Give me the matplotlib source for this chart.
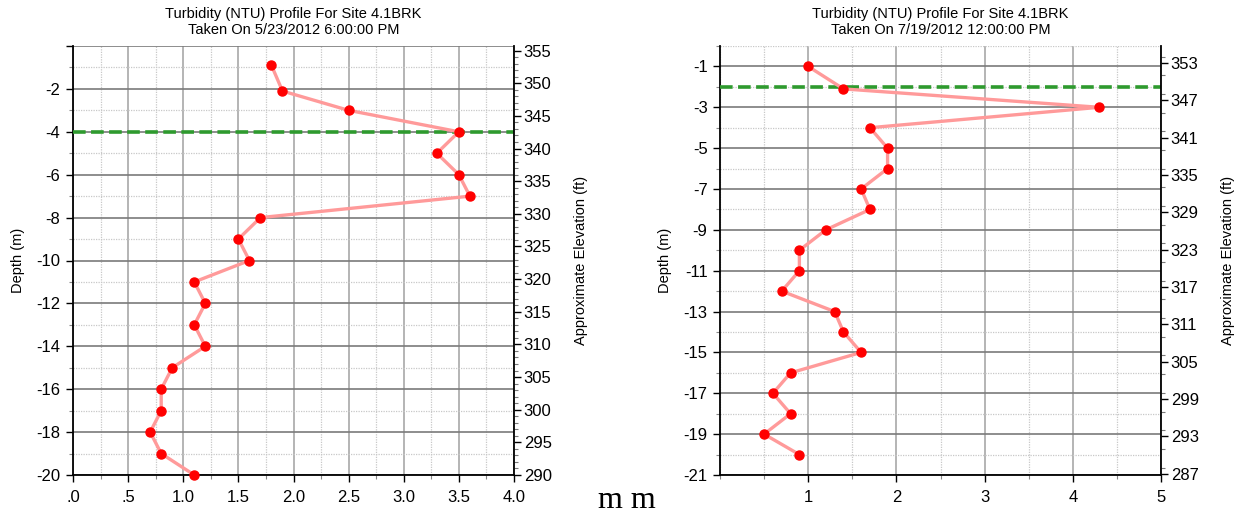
import numpy as np
import matplotlib
matplotlib.use('Agg')
import matplotlib.pyplot as plt
from matplotlib.ticker import MultipleLocator, FixedLocator

plt.rcParams['font.family'] = ['Liberation Sans', 'DejaVu Sans']

M_TO_FT = 3.28084

# profile 1: 5/23/2012
depth1 = [-0.9, -2.1, -3, -4, -5, -6, -7, -8, -9, -10, -11, -12, -13, -14, -15, -16, -17, -18, -19, -20]
turb1 = [1.8, 1.9, 2.5, 3.5, 3.3, 3.5, 3.6, 1.7, 1.5, 1.6, 1.1, 1.2, 1.1, 1.2, 0.9, 0.8, 0.8, 0.7, 0.8, 1.1]
thermo1 = -4
title1 = "Turbidity (NTU) Profile For Site 4.1BRK\nTaken On 5/23/2012 6:00:00 PM"
xticks1 = [0, 0.5, 1.0, 1.5, 2.0, 2.5, 3.0, 3.5, 4.0]
xlabels1 = ['.0', '.5', '1.0', '1.5', '2.0', '2.5', '3.0', '3.5', '4.0']
yticks1 = [0, -2, -4, -6, -8, -10, -12, -14, -16, -18, -20]
ylabels1 = ['', '-2', '-4', '-6', '-8', '-10', '-12', '-14', '-16', '-18', '-20']
elev_ticks1 = [290, 295, 300, 305, 310, 315, 320, 325, 330, 335, 340, 345, 350, 355]

# profile 2: 7/19/2012
depth2 = [-1, -2.1, -3, -4, -5, -6, -7, -8, -9, -10, -11, -12, -13, -14, -15, -16, -17, -18, -19, -20]
turb2 = [1.0, 1.4, 4.3, 1.7, 1.9, 1.9, 1.6, 1.7, 1.2, 0.9, 0.9, 0.7, 1.3, 1.4, 1.6, 0.8, 0.6, 0.8, 0.5, 0.9]
thermo2 = -2
title2 = "Turbidity (NTU) Profile For Site 4.1BRK\nTaken On 7/19/2012 12:00:00 PM"
xticks2 = [1, 2, 3, 4, 5]
xlabels2 = ['1', '2', '3', '4', '5']
yticks2 = [-1, -3, -5, -7, -9, -11, -13, -15, -17, -19, -21]
ylabels2 = ['-1', '-3', '-5', '-7', '-9', '-11', '-13', '-15', '-17', '-19', '-21']
elev_ticks2 = [287, 293, 299, 305, 311, 317, 323, 329, 335, 341, 347, 353]

surface_elev = 355.7

fig = plt.figure(figsize=(12.38, 5.14), dpi=100)


def draw_profile(rect, depth, turb, thermo, title, xlim, xticks, xlabels, xminor,
                 ylim, yticks, ylabels, yminor, elev_ticks, elev_minor):
    ax = fig.add_axes(rect)
    ax.set_xlim(*xlim)
    ax.set_ylim(*ylim)

    ax.set_xticks(xticks)
    ax.set_xticklabels(xlabels)
    ax.xaxis.set_minor_locator(MultipleLocator(xminor))
    ax.set_yticks(yticks)
    ax.set_yticklabels(ylabels)
    ax.yaxis.set_minor_locator(FixedLocator(yminor))

    ax.grid(which='major', axis='x', color='#a8a8a8', lw=1.2)
    ax.grid(which='major', axis='y', color='#7a7a7a', lw=1.2)
    ax.grid(which='minor', color='#c8c8c8', lw=0.9, ls=(0, (1, 1)))
    ax.set_axisbelow(True)

    ax.tick_params(which='major', direction='out', length=5, width=1, labelsize=12, pad=4)
    ax.tick_params(which='minor', direction='out', length=3, width=0.8, color='#888888')
    ax.tick_params(axis='x', which='major', pad=6)
    for s in ['left', 'bottom']:
        ax.spines[s].set_color('black')
        ax.spines[s].set_linewidth(1.3)
    ax.spines['top'].set_visible(False)
    ax.spines['right'].set_visible(False)

    ax.axhline(thermo, color='#2e9a2e', lw=2.6, ls=(0, (3.5, 1.5)), zorder=3)
    ax.plot(turb, depth, color='#ff9a9a', lw=2.4, zorder=4, clip_on=False)
    ax.plot(turb, depth, 'o', color='#ff0000', ms=6.5, zorder=5, clip_on=False)

    ax.set_title(title, fontsize=10.5, pad=9, linespacing=1.1)
    ax.set_ylabel('Depth (m)', fontsize=10.5, labelpad=8)

    ax2 = ax.twinx()
    ax2.set_ylim(surface_elev + ylim[0] * M_TO_FT, surface_elev + ylim[1] * M_TO_FT)
    ax2.set_yticks(elev_ticks)
    ax2.yaxis.set_minor_locator(MultipleLocator(elev_minor))
    ax2.tick_params(which='major', direction='out', length=5, width=1, labelsize=12, pad=2)
    ax2.tick_params(which='minor', direction='out', length=3, width=0.8, color='#777777')
    for s in ['left', 'top', 'bottom']:
        ax2.spines[s].set_visible(False)
    ax2.spines['right'].set_color('black')
    ax2.spines['right'].set_linewidth(1.3)
    ax2.set_ylabel('Approximate Elevation (ft)', fontsize=10.5, labelpad=16)
    return ax


draw_profile([73 / 1238, 39 / 514, 441 / 1238, 429 / 514], depth1, turb1, thermo1, title1,
             (0, 4), xticks1, xlabels1, 0.25,
             (-20, 0), yticks1, ylabels1, [-1, -3, -5, -7, -9, -11, -13, -15, -17, -19],
             elev_ticks1, 1)

draw_profile([720 / 1238, 39 / 514, 441 / 1238, 429 / 514], depth2, turb2, thermo2, title2,
             (0, 5), xticks2, xlabels2, 0.5,
             (-21, 0), yticks2, ylabels2, [0, -2, -4, -6, -8, -10, -12, -14, -16, -18, -20],
             elev_ticks2, 3)

fig.text(627 / 1238, 6 / 514, 'm m', family='Liberation Serif', fontsize=23,
         ha='center', va='baseline')

fig.savefig('out.png', dpi=100)
